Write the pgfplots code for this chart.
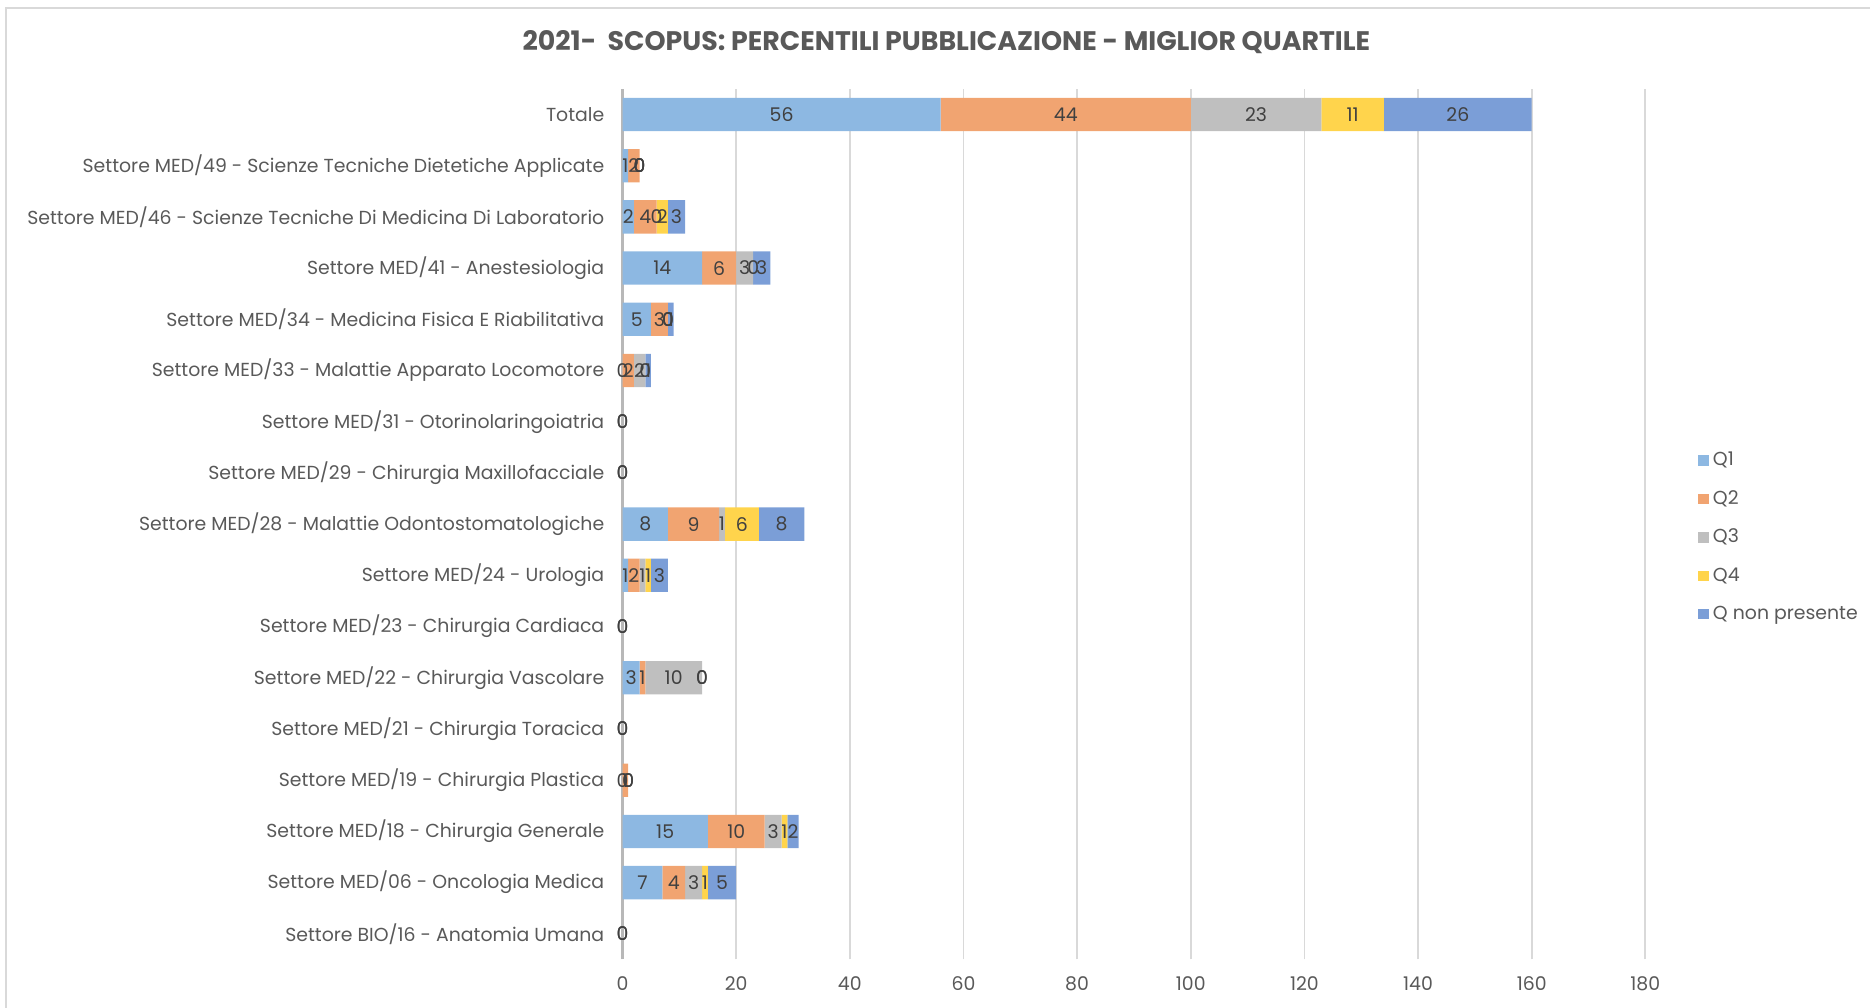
\documentclass[border=0pt]{standalone}
\usepackage{pgfplots}
\pgfplotsset{compat=1.18}
\usepackage{pgfplotstable}
\usepackage{fontspec}
\setmainfont{Poppins}

\definecolor{qa}{RGB}{141,184,226}
\definecolor{qb}{RGB}{241,164,113}
\definecolor{qc}{RGB}{191,191,191}
\definecolor{qd}{RGB}{255,212,76}
\definecolor{qn}{RGB}{123,158,215}
\definecolor{txt}{RGB}{89,89,89}
\definecolor{lbl}{RGB}{64,64,64}

% rows bottom (0) to top (16)
\pgfplotstableread{
idx Q1 Q2 Q3 Q4 Qn
0   0  0  0  0  0
1   7  4  3  1  5
2  15 10  3  1  2
3   0  1  0  0  0
4   0  0  0  0  0
5   3  1 10  0  0
6   0  0  0  0  0
7   1  2  1  1  3
8   8  9  1  6  8
9   0  0  0  0  0
10  0  0  0  0  0
11  0  2  2  0  1
12  5  3  0  0  1
13 14  6  3  0  3
14  2  4  0  2  3
15  1  2  0  0  0
16 56 44 23 11 26
}\data

% value labels: row, middle of the segment, value
\pgfplotstableread{
y  x     v
16 28    56
16 78    44
16 111.5 23
16 128.5 11
16 147   26
15 0.5   1
15 2     2
15 3     0
15 3     0
15 3     0
14 1     2
14 4     4
14 6     0
14 7     2
14 9.5   3
13 7     14
13 17    6
13 21.5  3
13 23    0
13 24.5  3
12 2.5   5
12 6.5   3
12 8     0
12 8     0
12 8.5   1
11 0     0
11 1     2
11 3     2
11 4     0
11 4.5   1
10 0     0
10 0     0
9  0     0
9  0     0
8  4     8
8  12.5  9
8  17.5  1
8  21    6
8  28    8
7  0.5   1
7  2     2
7  3.5   1
7  4.5   1
7  6.5   3
6  0     0
6  0     0
5  1.5   3
5  3.5   1
5  9     10
5  14    0
5  14    0
4  0     0
4  0     0
3  0     0
3  0.5   1
3  1     0
3  1     0
2  7.5   15
2  20    10
2  26.5  3
2  28.5  1
2  30    2
1  3.5   7
1  9     4
1  12.5  3
1  14.5  1
1  17.5  5
0  0     0
0  0     0
}\labels

\begin{document}
\begin{tikzpicture}
\path[use as bounding box] (0,0) rectangle (31.36,16.9);
\draw[black!15,line width=0.8pt] (0.1,0) -- (0.1,16.76) -- (31.5,16.76);
\node[font=\bfseries\fontsize{12.8}{14}\selectfont,text=txt] at (15.87,16.2)
  {2021-\ \ SCOPUS: PERCENTILI PUBBLICAZIONE - MIGLIOR QUARTILE};
\begin{axis}[
  at={(10.44cm,0.81cm)}, anchor=south west,
  scale only axis, width=17.152cm, height=14.6cm,
  xbar stacked, bar width=0.65,
  xmin=0, xmax=180, ymin=-0.5, ymax=16.5,
  xtick={0,20,...,180}, ytick={0,...,16},
  yticklabels={Settore BIO/16 - Anatomia Umana,
    Settore MED/06 - Oncologia Medica,
    Settore MED/18 - Chirurgia Generale,
    Settore MED/19 - Chirurgia Plastica,
    Settore MED/21 - Chirurgia Toracica,
    Settore MED/22 - Chirurgia Vascolare,
    Settore MED/23 - Chirurgia Cardiaca,
    Settore MED/24 - Urologia,
    Settore MED/28 - Malattie Odontostomatologiche,
    Settore MED/29 - Chirurgia Maxillofacciale,
    Settore MED/31 - Otorinolaringoiatria,
    Settore MED/33 - Malattie Apparato Locomotore,
    Settore MED/34 - Medicina Fisica E Riabilitativa,
    Settore MED/41 - Anestesiologia,
    Settore MED/46 - Scienze Tecniche Di Medicina Di Laboratorio,
    Settore MED/49 - Scienze Tecniche Dietetiche Applicate,
    Totale},
  /pgf/number format/assume math mode=true,
  major tick length=0pt,
  axis line style={draw=none},
  xmajorgrids, grid style={draw=black!15,line width=0.8pt},
  extra x ticks={0}, extra x tick labels={},
  extra x tick style={grid style={draw=black!28,line width=1pt}},
  xticklabel style={font=\fontsize{9}{10}\selectfont,text=txt,anchor=center,yshift=-0.41cm},
  yticklabel style={font=\fontsize{9}{10}\selectfont,text=txt,anchor=east,inner sep=0pt,xshift=-0.3cm},
  legend style={at={(1.045,0.485)},anchor=west,draw=none,fill=none,
    font=\fontsize{9}{10}\selectfont,text=txt,row sep=0.22cm},
  legend cell align=left,
  legend image code/.code={\draw[#1,draw=none] (0cm,-0.09cm) rectangle (0.18cm,0.09cm);},
]
\addplot[fill=qa,draw=none] table[x=Q1,y=idx] {\data};
\addplot[fill=qb,draw=none] table[x=Q2,y=idx] {\data};
\addplot[fill=qc,draw=none] table[x=Q3,y=idx] {\data};
\addplot[fill=qd,draw=none] table[x=Q4,y=idx] {\data};
\addplot[fill=qn,draw=none] table[x=Qn,y=idx] {\data};
\legend{Q1,Q2,Q3,Q4,Q non presente}
\end{axis}
\begin{axis}[
  at={(10.44cm,0.81cm)}, anchor=south west,
  scale only axis, width=17.152cm, height=14.6cm,
  xmin=0, xmax=180, ymin=-0.5, ymax=16.5,
  hide axis, clip=false,
]
\addplot[only marks,mark=none,point meta=explicit symbolic,
  nodes near coords,
  every node near coord/.append style={anchor=center,inner sep=0pt,
    font=\fontsize{9}{10}\selectfont,text=lbl}]
  table[x=x,y=y,meta=v] {\labels};
\end{axis}
\end{tikzpicture}
\end{document}
